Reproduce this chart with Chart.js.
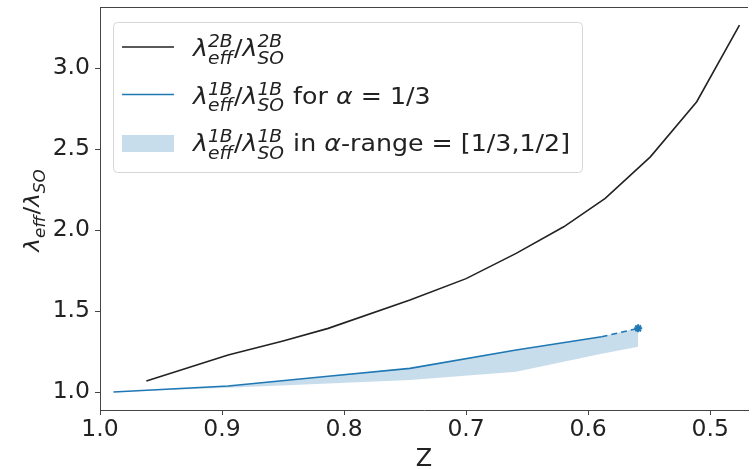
<!DOCTYPE html>
<html>
<head>
<meta charset="utf-8">
<script src="https://cdn.jsdelivr.net/npm/chart.js@4"></script>
<style>
  html, body { margin: 0; padding: 0; background: #fff; }
  #chart { display: block; }
</style>
</head>
<body>
<canvas id="chart" width="754" height="469"></canvas>
<script>
// black curve: 2B ratio
const blackZ = [0.962, 0.895, 0.850, 0.813, 0.746, 0.700, 0.659, 0.620, 0.586, 0.549, 0.511, 0.476];
const blackY = [1.068, 1.228, 1.315, 1.393, 1.568, 1.700, 1.856, 2.020, 2.195, 2.452, 2.792, 3.265];

// blue curve (alpha = 1/3), last segment dashed up to the star
const blueZ = [0.989, 0.895, 0.813, 0.746, 0.659, 0.589, 0.559];
const blueY = [1.000, 1.037, 1.097, 1.146, 1.259, 1.341, 1.393];

// lower edge of the alpha band (alpha = 1/2), same Z as the blue curve
const bandLow = [1.000, 1.027, 1.052, 1.074, 1.125, 1.236, 1.280];

const xTicks = [1.0, 0.9, 0.8, 0.7, 0.6, 0.5];
const yTicks = [1.0, 1.5, 2.0, 2.5, 3.0];

const FAM = '"DejaVu Sans", sans-serif';
const blue = '#1f77b4';
const band = 'rgba(31,119,180,0.25)';

const toPts = (xs, ys) => xs.map((x, i) => ({ x, y: ys[i] }));
const lastBlue = blueZ.length - 1;

// draws mathtext-like runs: {t, it} plain text, {sup, sub} stacked scripts
// sx stretches the text horizontally a little, like the reference
function drawRuns(ctx, runs, x, y, size, sx) {
  ctx.textBaseline = 'alphabetic';
  ctx.textAlign = 'left';
  const put = (txt, px, py) => {
    ctx.save();
    ctx.translate(px, py);
    ctx.scale(sx, 1);
    ctx.fillText(txt, 0, 0);
    ctx.restore();
    return ctx.measureText(txt).width * sx;
  };
  for (const r of runs) {
    if (r.t !== undefined) {
      ctx.font = (r.it ? 'italic ' : '') + size + 'px ' + FAM;
      x += put(r.t, x, y);
    } else {
      const s = Math.round(size * 0.72);
      ctx.font = 'italic ' + s + 'px ' + FAM;
      let w = 0;
      if (r.sup) w = put(r.sup, x, y - size * 0.38);
      if (r.sub) w = Math.max(w, put(r.sub, x, y + size * (r.sup ? 0.34 : 0.28)));
      x += w + 1;
    }
  }
  return x;
}

const ratio = (n) => [
  { t: 'λ', it: true }, { sup: n, sub: 'eff' }, { t: '/' },
  { t: 'λ', it: true }, { sup: n, sub: 'SO' }
];

const legendRows = [
  { kind: 'line', color: '#222', runs: ratio('2B') },
  { kind: 'line', color: blue, runs: ratio('1B').concat([{ t: ' for ' }, { t: 'α', it: true }, { t: ' = 1/3' }]) },
  { kind: 'patch', color: band, runs: ratio('1B').concat([{ t: ' in ' }, { t: 'α', it: true }, { t: '-range = [1/3,1/2]' }]) }
];

const extras = {
  id: 'extras',
  afterDraw(chart) {
    const ctx = chart.ctx;
    const a = chart.chartArea;
    ctx.save();
    // top spine
    ctx.strokeStyle = '#444';
    ctx.lineWidth = 1;
    ctx.beginPath();
    ctx.moveTo(a.left, a.top + 0.5);
    ctx.lineTo(a.right, a.top + 0.5);
    ctx.stroke();

    // legend box
    const bx = 113, by = 22, bw = 469, bh = 150, rr = 4;
    ctx.fillStyle = 'rgba(255,255,255,0.85)';
    ctx.strokeStyle = '#d6d6d6';
    ctx.beginPath();
    ctx.roundRect(bx + 0.5, by + 0.5, bw, bh, rr);
    ctx.fill();
    ctx.stroke();

    legendRows.forEach((row, i) => {
      const base = 56 + i * 47.5;
      if (row.kind === 'line') {
        ctx.strokeStyle = row.color;
        ctx.lineWidth = 1.6;
        ctx.beginPath();
        ctx.moveTo(122, base - 9);
        ctx.lineTo(174, base - 9);
        ctx.stroke();
      } else {
        ctx.fillStyle = row.color;
        ctx.fillRect(122, base - 16, 52, 17);
      }
      ctx.fillStyle = '#222';
      drawRuns(ctx, row.runs, 193, base, 23, 1.1);
    });

    // y axis title, rotated
    ctx.translate(39, 210);
    ctx.rotate(-Math.PI / 2);
    const yRuns = [{ t: 'λ', it: true }, { sub: 'eff' }, { t: '/' }, { t: 'λ', it: true }, { sub: 'SO' }];
    ctx.globalAlpha = 0;
    const w = drawRuns(ctx, yRuns, 0, 0, 22, 1.05);
    ctx.globalAlpha = 1;
    ctx.fillStyle = '#222';
    drawRuns(ctx, yRuns, -w / 2, 0, 22, 1.05);
    ctx.restore();
  }
};

new Chart(document.getElementById('chart'), {
  type: 'line',
  data: {
    datasets: [
      {
        label: '2B',
        data: toPts(blackZ, blackY),
        borderColor: '#222',
        borderWidth: 1.6,
        pointRadius: 0,
        fill: false
      },
      {
        label: '1B alpha 1/3',
        data: toPts(blueZ, blueY),
        borderColor: blue,
        borderWidth: 1.6,
        pointRadius: blueZ.map((_, i) => i === lastBlue ? 4 : 0),
        pointStyle: 'star',
        pointBorderColor: blue,
        pointBorderWidth: 2,
        fill: false,
        segment: {
          borderDash: c => c.p1DataIndex === lastBlue ? [6, 4] : undefined
        }
      },
      {
        label: 'band top',
        data: toPts(blueZ, blueY),
        borderWidth: 0,
        borderColor: 'rgba(0,0,0,0)',
        pointRadius: 0,
        fill: false
      },
      {
        label: 'band',
        data: toPts(blueZ, bandLow),
        borderWidth: 0,
        borderColor: 'rgba(0,0,0,0)',
        backgroundColor: band,
        pointRadius: 0,
        fill: '-1'
      }
    ]
  },
  options: {
    responsive: false,
    animation: false,
    layout: { padding: { top: 7, right: 0, left: 0, bottom: 0 } },
    plugins: {
      legend: { display: false },
      tooltip: { enabled: false }
    },
    scales: {
      x: {
        type: 'linear',
        reverse: true,
        min: 0.469,
        max: 1.0,
        afterBuildTicks: s => { s.ticks = xTicks.map(v => ({ value: v })); },
        afterFit: s => { s.height = 59; s.paddingLeft = 0; s.paddingRight = 0; },
        ticks: {
          font: { size: 23.5, family: FAM },
          color: '#222',
          padding: 1,
          maxRotation: 0,
          autoSkip: false,
          callback: v => v.toFixed(1)
        },
        grid: { drawOnChartArea: false, tickLength: 5, color: '#444' },
        border: { color: '#444', width: 1 },
        title: {
          display: true,
          text: 'Z',
          font: { size: 24, family: FAM, lineHeight: 0.8 },
          color: '#222',
          padding: 0
        }
      },
      y: {
        min: 0.889,
        max: 3.377,
        afterBuildTicks: s => { s.ticks = yTicks.map(v => ({ value: v })); },
        afterFit: s => { s.width = 100; s.paddingTop = 0; s.paddingBottom = 0; },
        ticks: {
          font: { size: 23.5, family: FAM },
          color: '#222',
          padding: 5,
          callback: v => v.toFixed(1)
        },
        grid: { drawOnChartArea: false, tickLength: 5, color: '#444' },
        border: { color: '#444', width: 1 }
      }
    }
  },
  plugins: [extras]
});
</script>
</body>
</html>
